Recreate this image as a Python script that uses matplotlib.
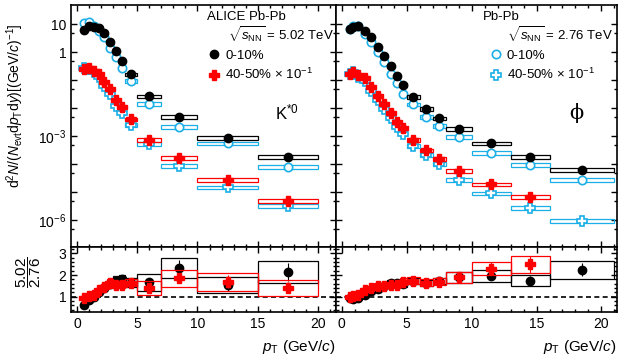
import numpy as np
import matplotlib
matplotlib.use("Agg")
import matplotlib.pyplot as plt
from matplotlib.lines import Line2D
from matplotlib.ticker import FixedLocator, MultipleLocator, NullFormatter, FuncFormatter

plt.rcParams['font.family'] = ['Liberation Sans', 'DejaVu Sans']
plt.rcParams['mathtext.fontset'] = 'custom'
plt.rcParams['mathtext.rm'] = 'Liberation Sans'
plt.rcParams['mathtext.it'] = 'Liberation Sans:italic'
plt.rcParams['mathtext.bf'] = 'Liberation Sans:bold'

BLUE = "#1AAFE6"
RED = "#FF0000"

# ---------------- K*0 ----------------
kst_edges = np.array([0.4, 0.8, 1.2, 1.6, 2.0, 2.5, 3.0, 3.5, 4.0, 5.0, 7.0, 10.0, 15.0, 20.0])
kst_pt = np.array([0.55, 1.0, 1.4, 1.8, 2.25, 2.75, 3.25, 3.75, 4.5, 6.0, 8.5, 12.5, 17.5])
# 5.02 TeV
kst_502_c = np.array([6.1, 8.7, 8.0, 7.0, 4.9, 2.3, 1.1, 0.48, 0.16, 0.026, 0.005, 8.9e-4, 1.8e-4])
kst_502_p = np.array([0.25, 0.26, 0.21, 0.16, 0.087, 0.05, 0.019, 0.011, 0.004, 7.2e-4, 1.7e-4, 2.7e-5, 4.8e-6])
# 2.76 TeV
kst_276_c = np.array([10.6, 11.5, 8.5, 5.8, 3.4, 1.45, 0.65, 0.27, 0.095, 0.0145, 0.0021, 5.5e-4, 8e-5])
kst_276_p = np.array([0.27, 0.25, 0.19, 0.125, 0.06, 0.031, 0.012, 0.0068, 0.0025, 5.2e-4, 8.7e-5, 1.5e-5, 3.2e-6])
# ratios 5.02 / 2.76
kst_r_c = np.array([0.62, 0.85, 1.0, 1.2, 1.4, 1.6, 1.75, 1.8, 1.65, 1.68, 2.33, 1.56, 2.15])
kst_r_c_stat = np.array([0.03, 0.03, 0.03, 0.04, 0.05, 0.06, 0.08, 0.1, 0.1, 0.15, 0.35, 0.3, 0.4])
kst_r_c_sys = np.array([0.08, 0.1, 0.1, 0.12, 0.15, 0.18, 0.2, 0.2, 0.2, 0.39, 0.47, 0.37, 0.5])
kst_r_p = np.array([0.95, 1.05, 1.1, 1.3, 1.45, 1.65, 1.55, 1.55, 1.65, 1.42, 1.85, 1.7, 1.42])
kst_r_p_stat = np.array([0.03, 0.03, 0.03, 0.04, 0.05, 0.06, 0.08, 0.08, 0.1, 0.12, 0.2, 0.3, 0.25])
kst_r_p_sys = np.array([0.1, 0.1, 0.1, 0.12, 0.14, 0.17, 0.16, 0.16, 0.17, 0.33, 0.38, 0.42, 0.37])

# ---------------- phi ----------------
phi_edges = np.array([0.5, 0.7, 1.0, 1.5, 2.0, 2.5, 3.0, 3.5, 4.0, 4.5, 5.0, 6.0, 7.0, 8.0, 10.0, 13.0, 16.0, 21.0])
phi_pt = np.array([0.6, 0.85, 1.25, 1.75, 2.25, 2.75, 3.25, 3.75, 4.25, 4.75, 5.5, 6.5, 7.5, 9.0, 11.5, 14.5, 18.5])
phi_502_c = np.array([6.6, 8.0, 8.7, 5.6, 3.5, 1.47, 0.74, 0.32, 0.14, 0.066, 0.025, 0.0092, 0.0043, 0.0018, 5.5e-4, 1.8e-4, 6.1e-5])
phi_502_p = np.array([0.16, 0.198, 0.15, 0.12, 0.058, 0.028, 0.0139, 0.0068, 0.0033, 0.0019, 7.2e-4, 3.1e-4, 1.5e-4, 5.6e-5, 1.9e-5, 6.8e-6])
phi_276_c = np.array([6.6, 8.7, 8.3, 4.3, 2.33, 1.03, 0.45, 0.17, 0.078, 0.031, 0.0135, 0.0049, 0.0023, 9.5e-4, 2.5e-4, 9.3e-5, 2.7e-5])
phi_276_p = np.array([0.16, 0.19, 0.13, 0.09, 0.042, 0.019, 0.0092, 0.0045, 0.0022, 0.0012, 4.6e-4, 2.1e-4, 1.0e-4, 2.8e-5, 9.1e-6, 2.8e-6, 9.3e-7])
phi_r_c = np.array([0.95, 0.88, 0.95, 1.1, 1.25, 1.35, 1.5, 1.65, 1.65, 1.6, 1.75, 1.65, 1.72, 1.9, 1.98, 1.75, 2.25])
phi_r_c_stat = np.array([0.03, 0.03, 0.03, 0.03, 0.04, 0.04, 0.05, 0.06, 0.06, 0.07, 0.07, 0.08, 0.1, 0.12, 0.18, 0.2, 0.3])
phi_r_c_sys = np.array([0.06, 0.06, 0.07, 0.08, 0.1, 0.11, 0.12, 0.13, 0.13, 0.13, 0.14, 0.14, 0.15, 0.26, 0.28, 0.27, 0.42])
phi_r_p = np.array([1.0, 1.05, 1.1, 1.3, 1.4, 1.5, 1.5, 1.55, 1.55, 1.7, 1.75, 1.65, 1.7, 1.9, 2.3, 2.5])
phi_r_p_stat = np.array([0.03, 0.03, 0.03, 0.04, 0.04, 0.05, 0.06, 0.07, 0.08, 0.1, 0.1, 0.12, 0.14, 0.15, 0.3, 0.4])
phi_r_p_sys = np.array([0.07, 0.07, 0.08, 0.09, 0.11, 0.12, 0.13, 0.14, 0.14, 0.15, 0.15, 0.16, 0.17, 0.26, 0.3, 0.38])

SPEC_SYS = 0.15  # relative systematic on the spectra boxes
MS_C = 6.0
MS_P = 6.8


def boxes(ax, edges, y, lo, hi, color, lw=0.9, z=2):
    n = len(y)
    w = np.diff(edges)[:n]
    c = 0.5 * (edges[:-1] + edges[1:])[:n]
    ax.bar(c, hi - lo, bottom=lo, width=w, fill=False, edgecolor=color, linewidth=lw, zorder=z)


def spectrum(ax, edges, pt, y, color, marker, filled, z):
    n = len(y)
    boxes(ax, edges, y, y * (1 - SPEC_SYS), y * (1 + SPEC_SYS), color, z=z)
    ax.plot(pt[:n], y, ls='none', marker=marker, ms=MS_C if marker == 'o' else MS_P,
            mfc=color if filled else 'white', mec=color, mew=1.0 if filled else 1.2, zorder=z + 1)


def ratio(ax, edges, pt, y, stat, sys, color, marker, z):
    n = len(y)
    boxes(ax, edges, y, y - sys, y + sys, color, z=z)
    ax.errorbar(pt[:n], y, yerr=stat, fmt='none', ecolor=color, elinewidth=0.8, zorder=z)
    ax.plot(pt[:n], y, ls='none', marker=marker, ms=MS_C if marker == 'o' else MS_P,
            mfc=color, mec=color, zorder=z + 1)


fig, axs = plt.subplots(2, 2, figsize=(6.37, 3.62), dpi=100,
                        gridspec_kw=dict(width_ratios=[265, 281], height_ratios=[242, 65],
                                         wspace=0, hspace=0))
fig.subplots_adjust(left=71 / 637, right=617 / 637, top=1 - 5 / 362, bottom=1 - 312 / 362)

(ak, ap), (rk, rp) = axs

# K*0 spectra
spectrum(ak, kst_edges, kst_pt, kst_276_c, BLUE, 'o', False, 2)
spectrum(ak, kst_edges, kst_pt, kst_276_p, BLUE, 'P', False, 2)
spectrum(ak, kst_edges, kst_pt, kst_502_c, 'black', 'o', True, 4)
spectrum(ak, kst_edges, kst_pt, kst_502_p, RED, 'P', True, 4)
# phi spectra
spectrum(ap, phi_edges, phi_pt, phi_276_c, BLUE, 'o', False, 2)
spectrum(ap, phi_edges, phi_pt, phi_276_p, BLUE, 'P', False, 2)
spectrum(ap, phi_edges, phi_pt, phi_502_c, 'black', 'o', True, 4)
spectrum(ap, phi_edges, phi_pt, phi_502_p, RED, 'P', True, 4)

# ratios
ratio(rk, kst_edges, kst_pt, kst_r_c, kst_r_c_stat, kst_r_c_sys, 'black', 'o', 2)
ratio(rk, kst_edges, kst_pt, kst_r_p, kst_r_p_stat, kst_r_p_sys, RED, 'P', 4)
ratio(rp, phi_edges, phi_pt, phi_r_c, phi_r_c_stat, phi_r_c_sys, 'black', 'o', 2)
ratio(rp, phi_edges, phi_pt, phi_r_p, phi_r_p_stat, phi_r_p_sys, RED, 'P', 4)

top_labels = {1: '10', 0: '1', -3: r'$10^{-3}$', -6: r'$10^{-6}$'}


def fmt_top(v, pos):
    e = int(round(np.log10(v)))
    return top_labels.get(e, '')


for ax in (ak, ap):
    ax.set_yscale('log')
    ax.set_ylim(1.1e-7, 48)
    ax.yaxis.set_major_locator(FixedLocator([10.0 ** e for e in range(-7, 2)]))
    ax.yaxis.set_minor_locator(FixedLocator([5 * 10.0 ** e for e in range(-8, 2)]))
    ax.yaxis.set_major_formatter(FuncFormatter(fmt_top))
    ax.yaxis.set_minor_formatter(NullFormatter())
    ax.tick_params(labelbottom=False)

for ax in (rk, rp):
    ax.set_ylim(0.3, 3.3)
    ax.yaxis.set_major_locator(FixedLocator([1, 2, 3]))
    ax.yaxis.set_minor_locator(MultipleLocator(0.2))
    ax.axhline(1, color='black', ls=(0, (3, 2)), lw=1.2, zorder=1)
    ax.set_xlabel(r'$p_{\rm T}$ (GeV/$c$)', fontsize=11, loc='right', labelpad=5)

for ax in (ak, rk):
    ax.set_xlim(-0.5, 21.5)
for ax in (ap, rp):
    ax.set_xlim(-0.45, 21.2)

for ax in axs.flat:
    ax.xaxis.set_major_locator(MultipleLocator(5))
    ax.xaxis.set_minor_locator(MultipleLocator(1))
    ax.tick_params(which='both', direction='in', top=True, right=True, labelsize=10, width=1.0)
    ax.tick_params(which='major', length=4)
    ax.tick_params(which='minor', length=2.2)
    for s in ax.spines.values():
        s.set_linewidth(1.2)

ap.tick_params(labelleft=False)
rp.tick_params(labelleft=False)

# legends / labels
ak.text(0.513, 0.95, 'ALICE Pb-Pb', transform=ak.transAxes, fontsize=9.5, va='center')
ak.text(0.592, 0.876, r'$\sqrt{s_{\rm NN}}$ = 5.02 TeV', transform=ak.transAxes, fontsize=9.5, va='center')
ak.text(0.77, 0.555, r'K$^{*0}$', transform=ak.transAxes, fontsize=12, va='center')
h1 = [Line2D([], [], ls='none', marker='o', color='black', ms=MS_C),
      Line2D([], [], ls='none', marker='P', color=RED, ms=MS_P)]
ak.legend(h1, ['0-10%', r'40-50% $\times$ 10$^{-1}$'], loc='upper left', bbox_to_anchor=(0.515, 0.815),
          frameon=False, fontsize=9.5, handlelength=1.0, handletextpad=0.35, labelspacing=0.4,
          borderpad=0, borderaxespad=0)

ap.text(0.523, 0.95, 'Pb-Pb', transform=ap.transAxes, fontsize=9.5, va='center')
ap.text(0.609, 0.876, r'$\sqrt{s_{\rm NN}}$ = 2.76 TeV', transform=ap.transAxes, fontsize=9.5, va='center')
ap.text(0.857, 0.555, 'ϕ', transform=ap.transAxes, fontsize=15, ha='center', va='center',
        family=['DejaVu Serif'])
h2 = [Line2D([], [], ls='none', marker='o', mfc='white', mec=BLUE, mew=1.2, ms=MS_C),
      Line2D([], [], ls='none', marker='P', mfc='white', mec=BLUE, mew=1.2, ms=MS_P)]
ap.legend(h2, ['0-10%', r'40-50% $\times$ 10$^{-1}$'], loc='upper left', bbox_to_anchor=(0.545, 0.815),
          frameon=False, fontsize=9.5, handlelength=1.0, handletextpad=0.35, labelspacing=0.4,
          borderpad=0, borderaxespad=0)

fig.text(0.024, 0.707, r'd$^{2}$$N$/($N_{\rm evt}$d$p_{\rm T}$d$y$)[(GeV/$c$)$^{-1}$]',
         rotation=90, ha='center', va='center', fontsize=10)
fig.text(0.045, 1 - 272 / 362, r'$\dfrac{5.02}{2.76}$', rotation=90, ha='center', va='center', fontsize=11)

fig.savefig('out.png', dpi=100)
